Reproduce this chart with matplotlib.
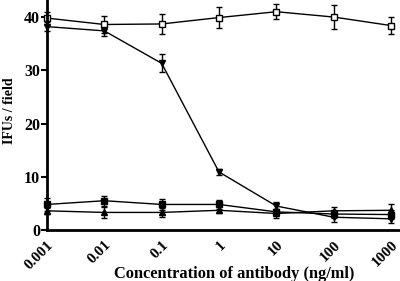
import matplotlib
matplotlib.use("Agg")
import matplotlib.pyplot as plt

conc = [0.001, 0.01, 0.1, 1, 10, 100, 1000]
xlabels = ["0.001", "0.01", "0.1", "1", "10", "100", "1000"]

open_sq = [39.8, 38.6, 38.7, 39.9, 41.0, 40.0, 38.4]
open_sq_err = [1.2, 1.6, 1.8, 1.9, 1.4, 2.2, 1.6]

tri_down = [38.2, 37.4, 31.3, 10.9, 4.5, 2.4, 2.1]
tri_down_err = [0.8, 0.9, 1.7, 0.6, 0.7, 0.9, 0.8]

fill_sq = [4.8, 5.5, 4.8, 4.8, 3.4, 3.0, 2.9]
fill_sq_err = [1.2, 0.9, 1.1, 0.8, 0.6, 0.8, 0.8]

tri_up = [3.6, 3.3, 3.3, 3.7, 3.1, 3.6, 3.7]
tri_up_err = [0.6, 1.1, 0.8, 0.6, 0.9, 0.8, 1.2]

plt.rcParams['font.family'] = ['Liberation Serif', 'DejaVu Serif']
plt.rcParams['font.weight'] = 'bold'

fig = plt.figure(figsize=(4.0, 2.81), dpi=100)
ax = fig.add_axes([0.1175, 0.1815, 0.8825, 0.8185])

common = dict(color='black', lw=1.0, capsize=2.5, elinewidth=1.0, capthick=1.0, clip_on=False)
ax.errorbar(conc, open_sq, yerr=open_sq_err, marker='s', ms=5, mfc='white', mec='black', mew=1.0, **common)
ax.errorbar(conc, tri_down, yerr=tri_down_err, marker='v', ms=5, mfc='black', mec='black', **common)
ax.errorbar(conc, fill_sq, yerr=fill_sq_err, marker='s', ms=4, mfc='black', mec='black', **common)
ax.errorbar(conc, tri_up, yerr=tri_up_err, marker='^', ms=4, mfc='black', mec='black', **common)

ax.set_xscale('log')
ax.set_xlim(0.001, 1436)
ax.set_ylim(0, 43.2)
ax.set_xticks(conc)
ax.set_xticklabels(xlabels, rotation=45, ha='right', rotation_mode='anchor', fontsize=11, fontweight='bold')
ax.minorticks_off()
ax.set_yticks([0, 10, 20, 30, 40])
ax.set_yticklabels(["0", "10", "20", "30", "40"], fontsize=11.5, fontweight='bold')
ax.tick_params(axis='x', length=0, pad=6)
ax.tick_params(axis='y', length=4, width=1.5, direction='out', pad=1)

for s in ['top', 'right']:
    ax.spines[s].set_visible(False)
for s in ['left', 'bottom']:
    ax.spines[s].set_linewidth(2.0)

ax.set_xlabel("Concentration of antibody (ng/ml)", fontsize=11.8, fontweight='bold')
ax.xaxis.set_label_coords(0.53, -0.155)
ax.set_ylabel("IFUs / field", fontsize=10, fontweight='bold')
ax.yaxis.set_label_coords(-0.088, 0.52)

fig.savefig("out.png", dpi=100)
